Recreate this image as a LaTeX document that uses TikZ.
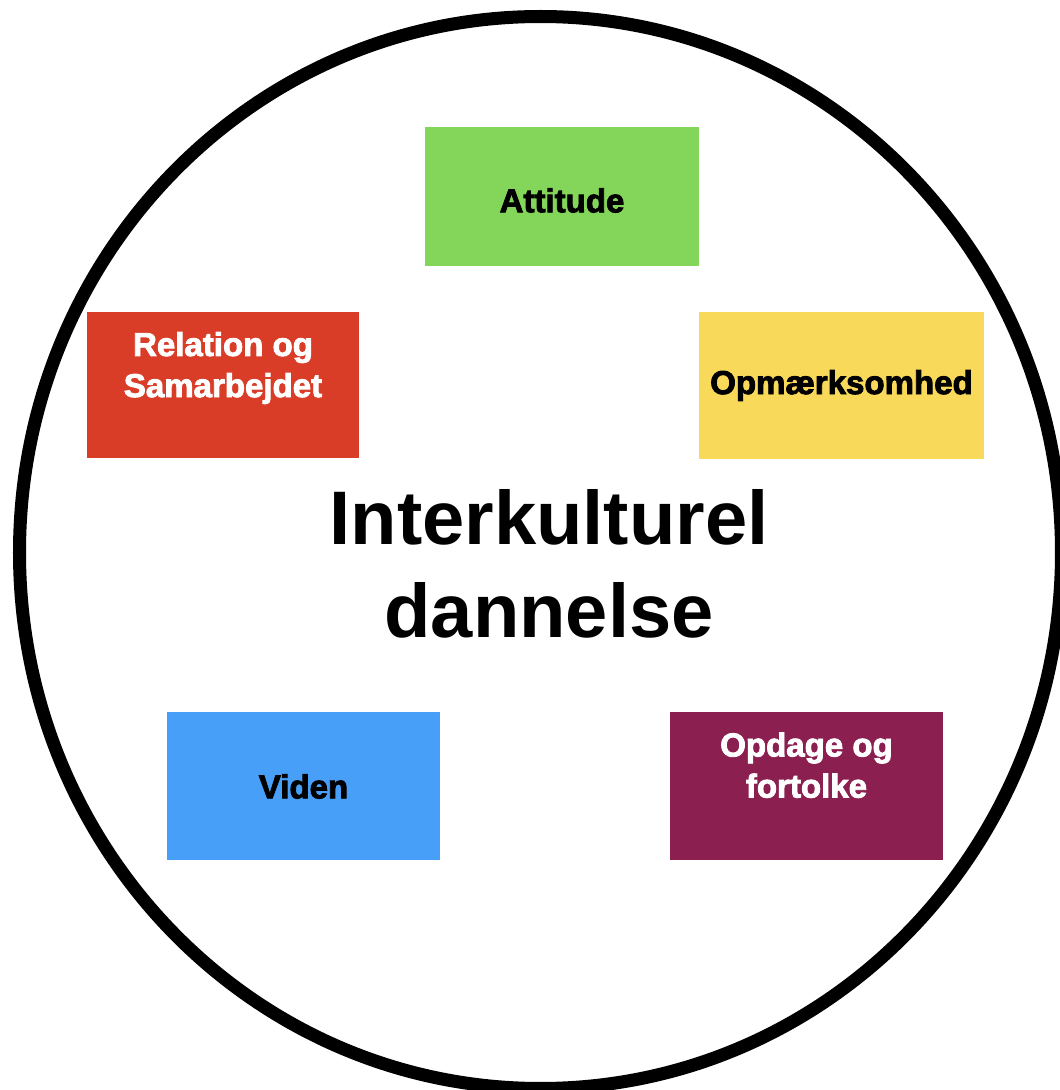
\documentclass[tikz,border=0pt]{standalone}
\usepackage{fontspec}
\setmainfont{Liberation Sans}
\newfontfamily\heavyfont{Liberation Sans}[BoldFeatures={FakeBold=2.6}]
\usetikzlibrary{positioning}
\definecolor{tilegreen}{HTML}{84D65A}
\definecolor{tileyellow}{HTML}{F8D95A}
\definecolor{tilered}{HTML}{D93C27}
\definecolor{tileblue}{HTML}{479FF8}
\definecolor{tilepurple}{HTML}{8A1F50}
\begin{document}
\begin{tikzpicture}[
  tile/.style={rectangle, draw=none, inner sep=0pt, minimum width=2.73cm, minimum height=1.48cm},
  tilelabel/.style={inner sep=0pt, align=center, font=\heavyfont\bfseries\fontsize{9.4}{11.7}\selectfont}]
\useasboundingbox (0,0) rectangle (10.6,10.9);
\draw[line width=3.7pt] (5.405,5.375) ellipse [x radius=5.21, y radius=5.36];
\node[tile, fill=tilegreen, minimum width=2.74cm, minimum height=1.39cm] (attitude) at (5.62,8.935) {};
\node[tile, fill=tileyellow, minimum width=2.85cm, minimum height=1.47cm] (opmaerk) at (8.415,7.045) {};
\node[tile, fill=tilered, minimum width=2.72cm, minimum height=1.46cm] (relation) at (2.23,7.05) {};
\node[tile, fill=tileblue] (viden) at (3.035,3.035) {};
\node[tile, fill=tilepurple] (opdage) at (8.065,3.035) {};
\node[tilelabel] (attitudetxt) at ([yshift=-0.04cm]attitude.center) {Attitude};
\node[tilelabel] (opmaerktxt) at (opmaerk.center) {Opmærksomhed};
\node[tilelabel, white, below=0.2cm of relation.north] (relationtxt) {Relation og\\Samarbejdet};
\node[tilelabel] (videntxt) at (viden.center) {Viden};
\node[tilelabel, white, below=0.2cm of opdage.north] (opdagetxt) {Opdage og\\fortolke};
\node[inner sep=0pt, align=center, font=\bfseries\fontsize{21.6}{26.5}\selectfont] (center) at (5.49,5.26) {Interkulturel\\dannelse};
\end{tikzpicture}
\end{document}
